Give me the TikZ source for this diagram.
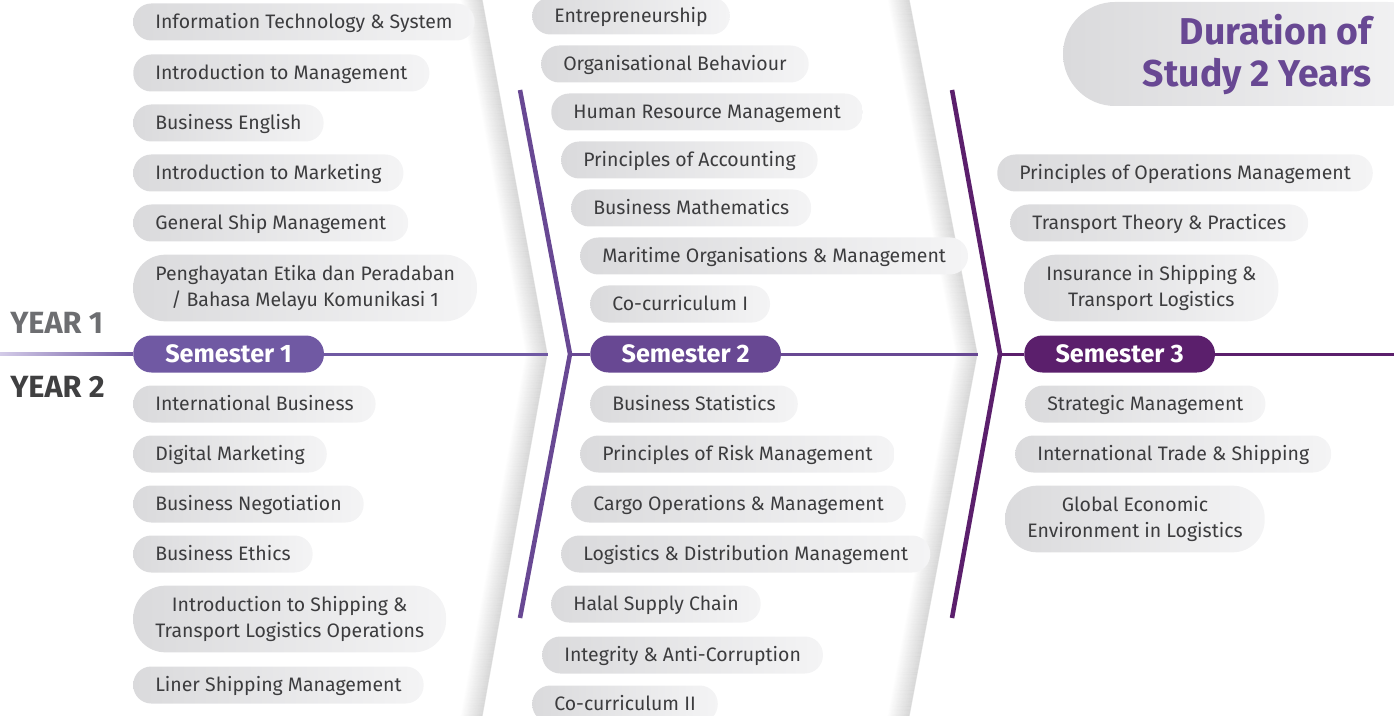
\documentclass[tikz,border=0pt]{standalone}
\usepackage{fontspec}
\setmainfont{Fira Sans}
\usepackage{tikz}
\usetikzlibrary{positioning}
\definecolor{pillL}{HTML}{DADADC}
\definecolor{pillR}{HTML}{F4F4F5}
\definecolor{ink}{HTML}{3C3C3E}
\definecolor{semA}{HTML}{7059A3}
\definecolor{semB}{HTML}{684893}
\definecolor{semC}{HTML}{5B1F6C}
\definecolor{yearA}{HTML}{6D6E71}
\definecolor{yearB}{HTML}{404041}
\definecolor{lilac}{HTML}{D3CBE8}
\tikzset{
pill/.style={anchor=west, left color=pillL, right color=pillR, text=ink, font=\fontsize{14.6}{19.5}\selectfont, inner xsep=16.5pt}, % the grey course pills
course/.style={pill, rounded corners=13.5pt, minimum height=27.75pt, text height=12.8pt, text depth=3pt}, % one line
course2/.style={pill, rounded corners=24pt, align=center, minimum height=50pt}, % two lines
semester/.style={anchor=west, rounded corners=13.5pt, fill=#1, text=white, font=\bfseries\fontsize{18.9}{20}\selectfont, minimum width=143pt, minimum height=27.75pt}, % purple semester pills
year/.style={anchor=west, inner sep=0pt, text=#1, font=\bfseries\fontsize{23}{24}\selectfont},
track/.style={line width=2.25pt, draw=#1},
chevron/.style={line width=3.4pt, draw=#1, line join=miter},
}

\begin{document}
\begin{tikzpicture}[x=0.75pt, y=-0.75pt]
\useasboundingbox (0,0) rectangle (1394,716);
% shadows of the folds
\foreach \k [evaluate=\k as \op using 0.0055*(23-\k)] in {1,...,22} {
\draw[line width=0.9pt, black, opacity=\op] (483-\k,0) -- (548-\k,354) -- (483-\k,716);
\draw[line width=0.9pt, black, opacity=\op] (910-\k,0) -- (978-\k,354) -- (910-\k,716);
}
% title
\shade[left color=pillL, right color=pillR, rounded corners=39pt] (1063,2) rectangle (1440,106);
\node[anchor=east, align=right, inner sep=0pt, text=semB, font=\bfseries\fontsize{28}{31.5}\selectfont] (dur) at (1372,55) {Duration of\\Study 2 Years};
\node[year=yearA] (yr1) at (10,323) {YEAR 1};
\node[year=yearB] (yr2) at (10,387) {YEAR 2};
% semester 1
\node[course] (a1) at (133,22) {Information Technology \& System};
\node[course] (a2) at (133,73) {Introduction to Management};
\node[course] (a3) at (133,123) {Business English};
\node[course] (a4) at (133,173) {Introduction to Marketing};
\node[course] (a5) at (133,223) {General Ship Management};
\node[course2] (a6) at (133,288) {Penghayatan Etika dan Peradaban\\/ Bahasa Melayu Komunikasi 1};
\node[semester=semA] (s1) at (133,354) {Semester 1};
\node[course] (a7) at (133,404) {International Business};
\node[course] (a8) at (133,454) {Digital Marketing};
\node[course] (a9) at (133,504) {Business Negotiation};
\node[course] (a10) at (133,554) {Business Ethics};
\node[course2] (a11) at (133,619) {Introduction to Shipping \&\\Transport Logistics Operations};
\node[course] (a12) at (133,685) {Liner Shipping Management};
% semester 2
\node[course] (b1) at (532,16) {Entrepreneurship};
\node[course] (b2) at (541,64) {Organisational Behaviour};
\node[course] (b3) at (551,112) {Human Resource Management};
\node[course] (b4) at (561,160) {Principles of Accounting};
\node[course] (b5) at (571,208) {Business Mathematics};
\node[course] (b6) at (580,256) {Maritime Organisations \& Management};
\node[course] (b7) at (590,304) {Co-curriculum I};
\node[semester=semB] (s2) at (590,354) {Semester 2};
\node[course] (b8) at (590,404) {Business Statistics};
\node[course] (b9) at (580,454) {Principles of Risk Management};
\node[course] (b10) at (571,504) {Cargo Operations \& Management};
\node[course] (b11) at (561,554) {Logistics \& Distribution Management};
\node[course] (b12) at (551,604) {Halal Supply Chain};
\node[course] (b13) at (542,655) {Integrity \& Anti-Corruption};
\node[course] (b14) at (532,704) {Co-curriculum II};
% semester 3
\node[course] (c1) at (997,173) {Principles of Operations Management};
\node[course] (c2) at (1010,223) {Transport Theory \& Practices};
\node[course2] (c3) at (1024,288) {Insurance in Shipping \&\\Transport Logistics};
\node[semester=semC] (s3) at (1024,354) {Semester 3};
\node[course] (c4) at (1025,404) {Strategic Management};
\node[course] (c5) at (1015,454) {International Trade \& Shipping};
\node[course2] (c6) at (1005,519) {Global Economic\\Environment in Logistics};
% the track
\coordinate (start) at (0,354);
\coordinate (fold2) at (548,354);
\coordinate (fold3) at (978,354);
\coordinate (end) at (1394,354);
\coordinate (v2top) at (520,90);
\coordinate (v2tip) at (570,354);
\coordinate (v2bot) at (520,618);
\coordinate (v3top) at (952,90);
\coordinate (v3tip) at (1000,354);
\coordinate (v3bot) at (952,618);
\shade[left color=lilac, right color=semA] ([yshift=1.1pt]start) rectangle ([yshift=-1.1pt]s1.west);
\draw[track=semA] (s1) -- (fold2);
\draw[track=semB] (v2tip) -- (s2);
\draw[track=semB] (s2) -- (fold3);
\draw[track=semC] (v3tip) -- (s3);
\draw[track=semC] (s3) -- (end);
\draw[chevron=semB] (v2top) -- (v2tip) -- (v2bot);
\draw[chevron=semC] (v3top) -- (v3tip) -- (v3bot);
\end{tikzpicture}
\end{document}
